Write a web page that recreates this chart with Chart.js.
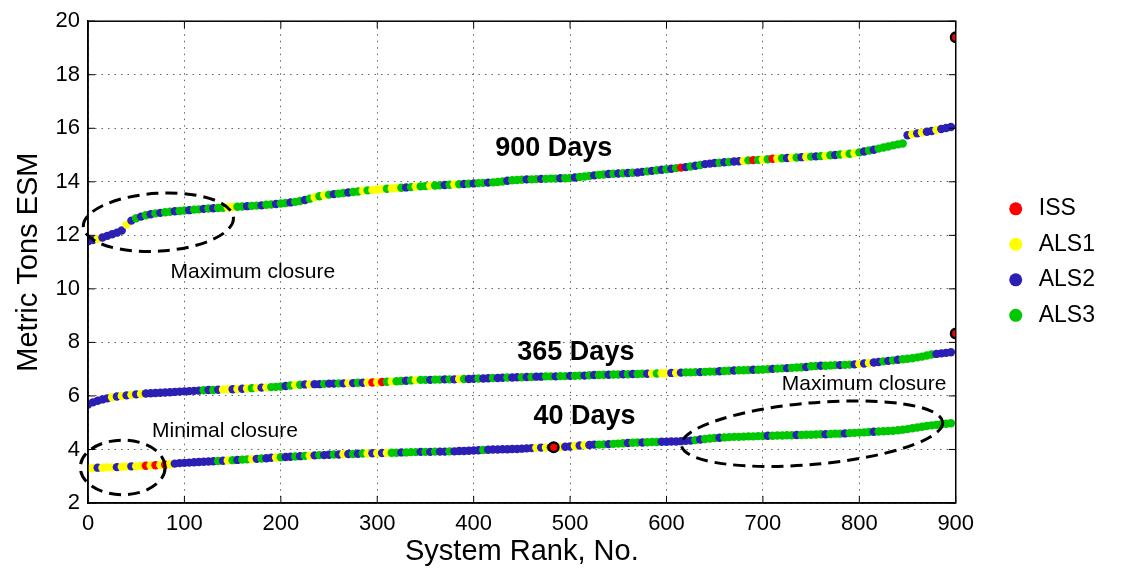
<!DOCTYPE html>
<html lang="en">
<head>
<meta charset="UTF-8">
<title>System Rank vs ESM</title>
<script src="https://cdn.jsdelivr.net/npm/chart.js"></script>
<style>
  body { margin: 0; background: #fff; }
  #wrap { width: 1123px; height: 571px; }
</style>
</head>
<body>
<div id="wrap"><canvas id="chart"></canvas></div>
<script>
// sampled system ranks (every 5th rank of 0..900)
var ranks = [];
for (var i = 0; i < 180; i++) ranks.push(i * 5);

// legend categories
var categories = ['ISS', 'ALS1', 'ALS2', 'ALS3'];
var catColors = ['#ff0000', '#ffff00', '#2b1fb4', '#00c800'];

var esm900 = [
  11.78,11.82,11.86,11.92,11.98,12.04,12.10,12.18,12.40,12.55,
  12.64,12.70,12.75,12.79,12.82,12.84,12.86,12.88,12.90,12.91,
  12.93,12.94,12.96,12.97,12.99,13.00,13.01,13.02,13.03,13.05,
  13.06,13.07,13.08,13.09,13.10,13.11,13.12,13.14,13.15,13.17,
  13.19,13.21,13.23,13.25,13.28,13.32,13.37,13.42,13.46,13.50,
  13.52,13.54,13.56,13.58,13.60,13.62,13.64,13.66,13.68,13.69,
  13.71,13.73,13.74,13.75,13.77,13.78,13.79,13.80,13.82,13.83,
  13.84,13.85,13.86,13.87,13.88,13.89,13.90,13.91,13.92,13.93,
  13.94,13.95,13.96,13.97,13.98,13.99,14.01,14.04,14.06,14.07,
  14.08,14.09,14.09,14.10,14.11,14.11,14.12,14.12,14.13,14.13,
  14.14,14.16,14.18,14.20,14.22,14.24,14.26,14.27,14.29,14.30,
  14.31,14.32,14.33,14.34,14.35,14.37,14.39,14.41,14.43,14.45,
  14.47,14.49,14.51,14.53,14.55,14.57,14.60,14.63,14.66,14.68,
  14.70,14.71,14.73,14.74,14.76,14.77,14.78,14.80,14.81,14.82,
  14.83,14.84,14.86,14.87,14.88,14.89,14.90,14.91,14.92,14.93,
  14.94,14.95,14.96,14.97,14.99,15.00,15.02,15.03,15.05,15.07,
  15.10,15.13,15.17,15.20,15.24,15.28,15.32,15.36,15.40,15.43,
  15.74,15.78,15.81,15.84,15.87,15.90,15.94,15.97,16.01,16.05
];
var esm365 = [
  5.68,5.76,5.82,5.87,5.91,5.95,5.98,6.00,6.02,6.04,
  6.06,6.07,6.09,6.10,6.11,6.12,6.13,6.14,6.15,6.16,
  6.17,6.18,6.19,6.20,6.21,6.22,6.22,6.23,6.24,6.25,
  6.25,6.26,6.27,6.28,6.29,6.30,6.31,6.32,6.33,6.34,
  6.35,6.37,6.39,6.41,6.42,6.43,6.43,6.44,6.44,6.45,
  6.46,6.46,6.47,6.47,6.48,6.48,6.49,6.49,6.50,6.50,
  6.51,6.52,6.53,6.54,6.55,6.56,6.57,6.58,6.59,6.60,
  6.60,6.60,6.61,6.61,6.62,6.62,6.62,6.63,6.63,6.63,
  6.64,6.65,6.65,6.66,6.67,6.67,6.68,6.69,6.69,6.70,
  6.70,6.71,6.71,6.72,6.72,6.73,6.73,6.73,6.74,6.74,
  6.75,6.75,6.76,6.76,6.77,6.78,6.78,6.79,6.79,6.80,
  6.80,6.81,6.81,6.82,6.82,6.83,6.83,6.84,6.84,6.85,
  6.85,6.86,6.86,6.87,6.88,6.88,6.89,6.89,6.90,6.91,
  6.91,6.92,6.93,6.94,6.95,6.96,6.96,6.97,6.98,6.98,
  6.99,7.00,7.01,7.02,7.03,7.04,7.05,7.06,7.07,7.08,
  7.11,7.12,7.13,7.13,7.14,7.15,7.15,7.16,7.17,7.18,
  7.19,7.21,7.23,7.25,7.27,7.29,7.31,7.33,7.35,7.37,
  7.39,7.41,7.44,7.47,7.51,7.55,7.57,7.59,7.61,7.63
];
var esm40 = [
  3.30,3.31,3.32,3.32,3.33,3.33,3.34,3.35,3.36,3.37,
  3.37,3.38,3.39,3.40,3.41,3.42,3.43,3.45,3.47,3.49,
  3.50,3.51,3.52,3.53,3.54,3.55,3.56,3.57,3.58,3.59,
  3.60,3.61,3.62,3.63,3.64,3.65,3.66,3.67,3.69,3.70,
  3.71,3.72,3.73,3.74,3.75,3.76,3.77,3.78,3.79,3.79,
  3.80,3.81,3.81,3.82,3.83,3.83,3.84,3.85,3.85,3.86,
  3.86,3.87,3.87,3.88,3.88,3.89,3.89,3.90,3.90,3.91,
  3.91,3.91,3.92,3.92,3.92,3.93,3.93,3.94,3.94,3.95,
  3.96,3.97,3.98,3.99,4.00,4.00,4.01,4.01,4.02,4.02,
  4.03,4.04,4.05,4.06,4.07,4.07,4.08,4.08,4.09,4.10,
  4.11,4.13,4.15,4.16,4.17,4.18,4.18,4.19,4.20,4.21,
  4.22,4.23,4.24,4.25,4.26,4.26,4.27,4.28,4.28,4.29,
  4.29,4.30,4.30,4.31,4.32,4.33,4.35,4.37,4.39,4.41,
  4.43,4.44,4.45,4.46,4.47,4.47,4.48,4.49,4.49,4.50,
  4.50,4.51,4.51,4.52,4.52,4.53,4.53,4.54,4.54,4.55,
  4.55,4.56,4.57,4.57,4.58,4.59,4.59,4.60,4.61,4.62,
  4.63,4.64,4.65,4.66,4.67,4.68,4.69,4.70,4.72,4.74,
  4.76,4.79,4.82,4.85,4.88,4.90,4.92,4.94,4.96,4.98
];

// system type at each sampled rank: R=ISS, Y=ALS1, B=ALS2, G=ALS3
var type900 =
  'BBYBBBBBYB' + 'GBGBGBGGBG' + 'GBGGBGBGGY' + 'YGGBGGBGGB' + 'GGBGGBGYGY' + 'GBGGBGGYGY' +
  'YYGYYGBGYG' + 'GYGGBGYGBG' + 'BGGBGGGBGG' + 'GBGGBGGGBG' + 'GBGGGBGGBG' + 'BGBGBBGBGB' +
  'GBGRBGBGBB' + 'BGBGBBYGRG' + 'YGRYGBYGBY' + 'GBGYGBGYGY' + 'GBGBGGGGGG' + 'BYBYBBYBBB';
var type365 =
  'BBBBBYBYBY' + 'BYBBBBBBBB' + 'BBBBGBGBYY' + 'BYBYGYBYGG' + 'GBGYGBYBBG' + 'BBGBYBGBYR' +
  'YRGYGGBGYG' + 'GBGGBGBYGB' + 'BGBBGBBGBB' + 'GBGBBGGBGG' + 'BGGBGBGGBG' + 'GBGBGGBYGY' +
  'YBYBGGGBGG' + 'GBGGBGGGBG' + 'GGBGGBGGGB' + 'GGBGGGBGGB' + 'YBYBBGBGBG' + 'GGGGGGBBBB';
var type40 =
  'YYBYYYBYYB' + 'YYRYRYRYBB' + 'BBBBBBBGBY' + 'GBGGYBGBBY' + 'GBBGBGYBGB' + 'BGBYBGBGYB' +
  'YBYGGBGGGB' + 'GBGBBGBBBB' + 'BBGBBBBBBB' + 'BBBYBYBYYB' + 'BYBYBBGGBG' + 'GGBGGBGGGB' +
  'BBBBBBGBGG' + 'GBGGGGGGGG' + 'GBGGGGGBGG' + 'GGGBGGGBGG' + 'GGGBGGGGGG' + 'GGGGGGGGGG';

// ISS systems marked with a black ring
var issRanks = [900, 900, 483];
var issValues = [19.4, 8.33, 4.08];

// notes and dashed rings on the plot (in data units)
var notes = [
  { text: '900 Days', x: 483, y: 15.24, bold: true },
  { text: '365 Days', x: 506, y: 7.62, bold: true },
  { text: '40 Days', x: 515, y: 5.24, bold: true },
  { text: 'Maximum closure', x: 171, y: 10.63 },
  { text: 'Minimal closure', x: 142, y: 4.68 },
  { text: 'Maximum closure', x: 805, y: 6.43 }
];
var rings = [
  { x: 73, y: 12.49, rx: 78, ry: 1.08, tilt: -0.06 },
  { x: 36, y: 3.33, rx: 44, ry: 1.02, tilt: 0 },
  { x: 751, y: 4.59, rx: 136, ry: 1.15, tilt: -0.088 }
];

var codeIndex = { R: 0, Y: 1, B: 2, G: 3 };
var FONT = '"Liberation Sans", Arial, sans-serif';

function curve(label, values, types) {
  var pts = [], cols = [];
  for (var i = 0; i < ranks.length; i++) {
    pts.push({ x: ranks[i], y: values[i] });
    var k = codeIndex[types.charAt(i)];
    cols.push(catColors[k !== undefined ? k : 3]);
  }
  return {
    label: label,
    data: pts,
    pointBackgroundColor: cols,
    pointBorderWidth: 0,
    pointRadius: 4.2,
    showLine: false,
    order: 1
  };
}

var issPts = issRanks.map(function (r, i) { return { x: r, y: issValues[i] }; });

var notePlugin = {
  id: 'notes',
  afterDatasetsDraw: function (chart) {
    var ctx = chart.ctx, a = chart.chartArea, x = chart.scales.x, y = chart.scales.y;
    ctx.save();
    // axes box with inward ticks
    ctx.strokeStyle = '#000';
    ctx.lineWidth = 1.5;
    ctx.strokeRect(a.left, a.top, a.right - a.left, a.bottom - a.top);
    ctx.lineWidth = 1;
    ctx.beginPath();
    x.ticks.forEach(function (t) {
      var px = x.getPixelForValue(t.value);
      ctx.moveTo(px, a.bottom); ctx.lineTo(px, a.bottom - 7);
      ctx.moveTo(px, a.top); ctx.lineTo(px, a.top + 7);
    });
    y.ticks.forEach(function (t) {
      var py = y.getPixelForValue(t.value);
      ctx.moveTo(a.left, py); ctx.lineTo(a.left + 7, py);
      ctx.moveTo(a.right, py); ctx.lineTo(a.right - 7, py);
    });
    ctx.stroke();

    // dashed rings
    ctx.setLineDash([12, 7]);
    ctx.lineWidth = 3;
    rings.forEach(function (r) {
      var cx = x.getPixelForValue(r.x), cy = y.getPixelForValue(r.y);
      var rx = x.getPixelForValue(r.x + r.rx) - cx;
      var ry = cy - y.getPixelForValue(r.y + r.ry);
      ctx.beginPath();
      ctx.ellipse(cx, cy, rx, ry, r.tilt, 0, Math.PI * 2);
      ctx.stroke();
    });
    ctx.setLineDash([]);

    // text notes
    ctx.fillStyle = '#000';
    ctx.textAlign = 'center';
    ctx.textBaseline = 'middle';
    notes.forEach(function (n) {
      ctx.font = n.bold ? 'bold 27px ' + FONT : '21px ' + FONT;
      ctx.fillText(n.text, x.getPixelForValue(n.x), y.getPixelForValue(n.y));
    });
    ctx.restore();
  }
};

var ctx = document.getElementById('chart').getContext('2d');
var chart = new Chart(ctx, {
  type: 'scatter',
  data: {
    datasets: [
      curve('900 Days', esm900, type900),
      curve('365 Days', esm365, type365),
      curve('40 Days', esm40, type40),
      {
        label: 'ISS marked',
        data: issPts,
        pointBackgroundColor: catColors[0],
        pointBorderColor: '#000',
        pointBorderWidth: 2.4,
        pointRadius: 4.8,
        showLine: false,
        order: 0
      }
    ]
  },
  options: {
    responsive: true,
    maintainAspectRatio: false,
    animation: false,
    layout: { padding: { top: 19, left: 0, right: 18, bottom: 2 } },
    plugins: {
      tooltip: { enabled: false },
      legend: {
        position: 'right',
        fullSize: false,
        onClick: null,
        labels: {
          usePointStyle: true,
          boxHeight: 9.2,
          padding: 12.5,
          color: '#000',
          font: { family: FONT, size: 23 },
          generateLabels: function () {
            return categories.map(function (c, i) {
              return {
                text: c, fillStyle: catColors[i], strokeStyle: catColors[i],
                lineWidth: 0, pointStyle: 'circle', hidden: false, fontColor: '#000'
              };
            });
          }
        }
      }
    },
    scales: {
      x: {
        type: 'linear',
        min: 0, max: 900,
        ticks: { stepSize: 100, color: '#000', padding: 8, maxRotation: 0,
                 font: { family: FONT, size: 22 } },
        grid: { color: '#666', lineWidth: 1, drawTicks: false },
        border: { color: '#000', width: 1.5, dash: [1.5, 5] },
        title: { display: true, text: 'System Rank, No.', color: '#000',
                 font: { family: FONT, size: 29 }, padding: { top: 0, bottom: 0 } },
        afterFit: function (s) { s.height = 66; }
      },
      y: {
        min: 2, max: 20,
        ticks: { stepSize: 2, color: '#000', padding: 8,
                 font: { family: FONT, size: 22 } },
        grid: { color: '#666', lineWidth: 1, drawTicks: false },
        border: { color: '#000', width: 1.5, dash: [1.5, 5] },
        title: { display: true, text: 'Metric Tons ESM', color: '#000',
                 font: { family: FONT, size: 29 }, padding: { top: 12, bottom: 0 } },
        afterFit: function (s) { s.width = 88; }
      },
      gap: {
        position: 'right',
        display: true,
        grid: { display: false },
        border: { display: false },
        ticks: { display: false },
        afterFit: function (s) { s.width = 36; }
      }
    }
  },
  plugins: [notePlugin]
});
</script>
</body>
</html>
